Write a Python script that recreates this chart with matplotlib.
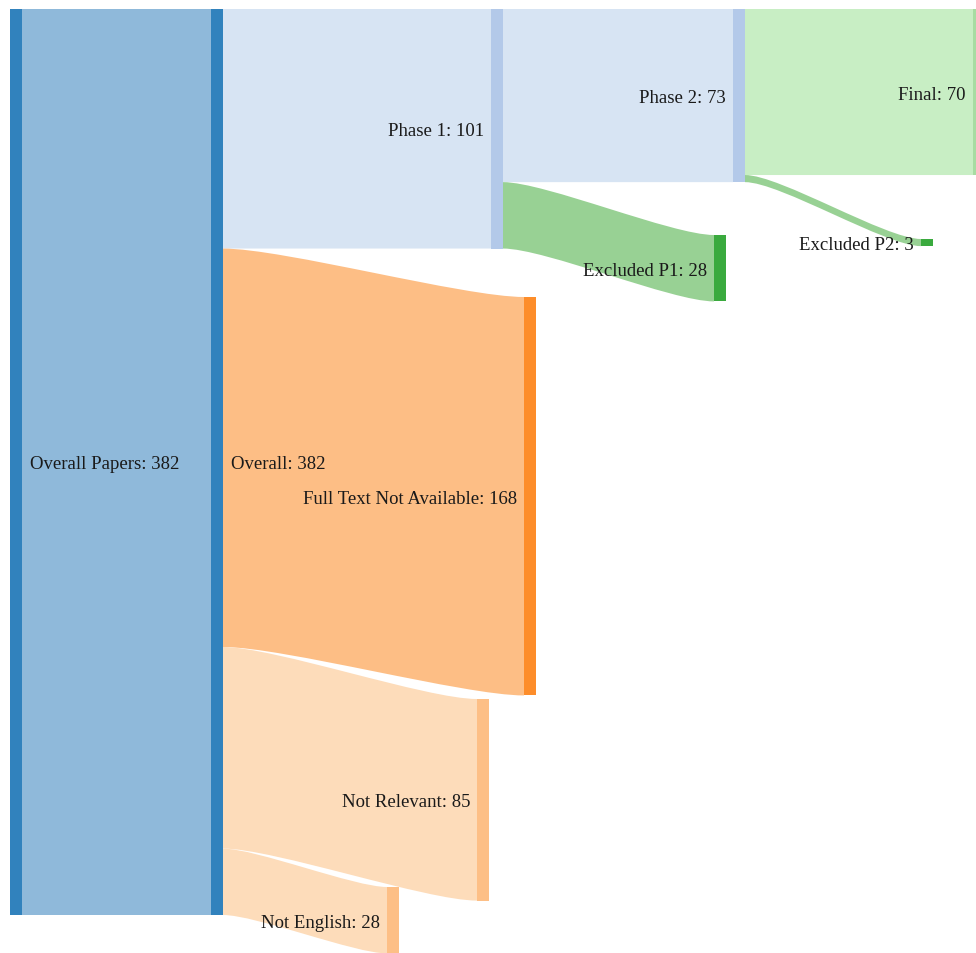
import matplotlib
matplotlib.use('Agg')
import matplotlib.pyplot as plt
from matplotlib.path import Path
from matplotlib.patches import PathPatch, Rectangle

# nodes
names = ['Overall Papers', 'Overall', 'Phase 1', 'Full Text Not Available',
         'Not Relevant', 'Not English', 'Phase 2', 'Excluded P1', 'Final', 'Excluded P2']
values = [382, 382, 101, 168, 85, 28, 73, 28, 70, 3]
node_colors = ['#3182bd', '#3182bd', '#b3c9e9', '#fd8d2a', '#fdbf86', '#fdbf86',
               '#b3c9e9', '#3aaa3e', '#a8dca2', '#3aaa3e']
# layout (pixel position of node left edge / top edge)
node_x = [10, 211, 491, 524, 477, 387, 733, 714, 973, 921]
node_y = [10, 10, 10, 298, 700, 888, 10, 236, 10, 240]
label_right = [True, True, False, False, False, False, False, False, False, False]

# links
src = [0, 1, 1, 1, 1, 2, 2, 6, 6]
tgt = [1, 2, 3, 4, 5, 6, 7, 8, 9]
flow = [382, 101, 168, 85, 28, 73, 28, 70, 3]
link_colors = ['#8fb9da', '#d7e4f3', '#fdbe85', '#fddcba', '#fddcba',
               '#d7e4f3', '#98d194', '#c8eec4', '#98d194']

W, H = 976, 954
NW = 12
scale = 906 / 382
curv = 0.2

fig = plt.figure(figsize=(W / 100, H / 100), dpi=100)
ax = fig.add_axes([0, 0, 1, 1])
ax.set_xlim(0, W)
ax.set_ylim(H, 0)
ax.axis('off')

out_off = [0.0] * len(names)
in_off = [0.0] * len(names)
for s, t, v, c in zip(src, tgt, flow, link_colors):
    h = v * scale
    x0 = node_x[s] + NW
    x1 = node_x[t]
    y0 = node_y[s] + out_off[s]
    y1 = node_y[t] + in_off[t]
    out_off[s] += h
    in_off[t] += h
    xa = x0 + (x1 - x0) * curv
    xb = x1 - (x1 - x0) * curv
    verts = [(x0, y0), (xa, y0), (xb, y1), (x1, y1),
             (x1, y1 + h), (xb, y1 + h), (xa, y0 + h), (x0, y0 + h), (x0, y0)]
    codes = [Path.MOVETO, Path.CURVE4, Path.CURVE4, Path.CURVE4,
             Path.LINETO, Path.CURVE4, Path.CURVE4, Path.CURVE4, Path.CLOSEPOLY]
    ax.add_patch(PathPatch(Path(verts, codes), facecolor=c, edgecolor='none'))

for i, n in enumerate(names):
    h = values[i] * scale
    ax.add_patch(Rectangle((node_x[i], node_y[i]), NW, h, facecolor=node_colors[i], edgecolor='none'))
    yc = node_y[i] + h / 2 + 2
    txt = '%s: %d' % (n, values[i])
    if label_right[i]:
        ax.text(node_x[i] + NW + 8, yc, txt, ha='left', va='center',
                fontsize=13.5, family='Liberation Serif', color='#1a1a1a')
    else:
        ax.text(node_x[i] - 7, yc, txt, ha='right', va='center',
                fontsize=13.5, family='Liberation Serif', color='#1a1a1a')

plt.savefig('out.png', dpi=100)
